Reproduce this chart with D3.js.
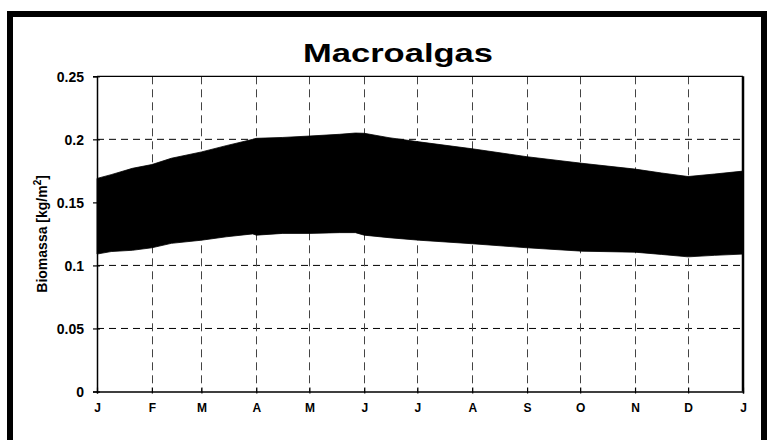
<!DOCTYPE html>
<html>
<head>
<meta charset="utf-8">
<script src="https://cdn.jsdelivr.net/npm/d3@7"></script>
<style>
  html, body { margin: 0; padding: 0; background: #fff; }
  svg { display: block; }
  text { font-family: "Liberation Sans", Arial, sans-serif; font-weight: bold; fill: #000; }
</style>
</head>
<body>
<svg id="chart" width="773" height="440"></svg>
<script>
// ---- data ----
const title = "Macroalgas";
const yLabel = "Biomassa [kg/m";
const monthLabels = ["J","F","M","A","M","J","J","A","S","O","N","D","J"];
const yTicks = [0, 0.05, 0.1, 0.15, 0.2, 0.25];
// day of year at which the envelope of the oscillating biomass was read
const days  = [0, 8, 20, 31, 42, 59, 73, 88, 90, 105, 120, 137, 146, 151, 165, 182, 212, 243, 274, 304, 319, 334, 349, 365];
// upper envelope (maxima of the oscillation), kg/m2
const upper = [0.169, 0.172, 0.177, 0.180, 0.185, 0.190, 0.195, 0.200, 0.2008, 0.2015, 0.2026, 0.204, 0.205, 0.2048, 0.2013, 0.198, 0.1925, 0.1862, 0.181, 0.1764, 0.1733, 0.1705, 0.1725, 0.1748];
// lower envelope (minima of the oscillation), kg/m2
const lower = [0.109, 0.111, 0.112, 0.114, 0.1175, 0.120, 0.1227, 0.125, 0.124, 0.1254, 0.1254, 0.126, 0.126, 0.124, 0.122, 0.120, 0.1172, 0.114, 0.1113, 0.1105, 0.1087, 0.1068, 0.108, 0.109];

// ---- drawing ----
const svg = d3.select("#chart");
const W = 773, H = 440;
const m = { left: 97, right: 743, top: 76.3, bottom: 391.5 };

svg.append("rect").attr("width", W).attr("height", H).attr("fill", "#fff");
// outer thick frame
svg.append("rect")
  .attr("x", 10).attr("y", 14).attr("width", 754).attr("height", 520)
  .attr("fill", "none").attr("stroke", "#000").attr("stroke-width", 6);

const start = new Date(Date.UTC(2001, 0, 1));
const end = new Date(Date.UTC(2002, 0, 1));
const x = d3.scaleUtc().domain([start, end]).range([m.left, m.right]);
const y = d3.scaleLinear().domain([0, 0.25]).range([m.bottom, m.top]);

const data = days.map((d, i) => ({ date: d3.utcDay.offset(start, d), hi: upper[i], lo: lower[i] }));
const monthTicks = d3.utcMonth.range(start, d3.utcDay.offset(end, 1));

// gridlines
const grid = svg.append("g");
grid.selectAll("line.h").data(yTicks.filter(v => v > 0 && v < 0.25)).join("line")
  .attr("x1", m.left).attr("x2", m.right)
  .attr("y1", d => y(d)).attr("y2", d => y(d))
  .attr("stroke", "#000").attr("stroke-width", 1).attr("stroke-dasharray", "7,5");
grid.selectAll("line.v").data(monthTicks.slice(1, -1)).join("line")
  .attr("x1", d => Math.round(x(d)) + 0.5).attr("x2", d => Math.round(x(d)) + 0.5)
  .attr("y1", m.top).attr("y2", m.bottom)
  .attr("stroke", "#444").attr("stroke-width", 1).attr("stroke-dasharray", "8,5");

// oscillation band
const area = d3.area()
  .x(d => x(d.date))
  .y0(d => y(d.lo))
  .y1(d => y(d.hi));
svg.append("path").datum(data)
  .attr("d", area)
  .attr("fill", "#000").attr("stroke", "#000").attr("stroke-width", 0.8);

// plot frame
svg.append("line").attr("x1", m.left).attr("x2", m.right).attr("y1", m.top).attr("y2", m.top)
  .attr("stroke", "#000").attr("stroke-width", 1.2);
svg.append("line").attr("x1", m.right).attr("x2", m.right).attr("y1", m.top).attr("y2", m.bottom)
  .attr("stroke", "#000").attr("stroke-width", 2.5);

// y axis
const yAxis = svg.append("g").attr("transform", `translate(${m.left},0)`)
  .call(d3.axisLeft(y).tickValues(yTicks).tickFormat(d => String(+d.toFixed(2))).tickSize(4).tickPadding(9));
yAxis.select(".domain").attr("stroke-width", 1.5);
yAxis.selectAll(".tick line").attr("x2", 3).attr("x1", -4).attr("stroke-width", 1.2);
yAxis.selectAll(".tick text").attr("font-size", 14).attr("font-family", null).attr("dy", "0.36em");

// x axis
const xAxis = svg.append("g").attr("transform", `translate(0,${m.bottom})`)
  .call(d3.axisBottom(x).tickValues(monthTicks).tickFormat((d, i) => monthLabels[i]).tickSize(2).tickPadding(10));
xAxis.select(".domain").attr("stroke-width", 1.5);
xAxis.selectAll(".tick line").attr("y1", -4).attr("y2", 2).attr("stroke-width", 1.2);
xAxis.selectAll(".tick text").attr("font-size", 12).attr("font-family", null);

// title
svg.append("text").attr("x", 398).attr("y", 62).attr("text-anchor", "middle")
  .attr("font-size", 26).attr("textLength", 190).attr("lengthAdjust", "spacingAndGlyphs")
  .text(title);

// y label
const yl = svg.append("text").attr("transform", `translate(47,${(m.top + m.bottom) / 2}) rotate(-90)`)
  .attr("text-anchor", "middle").attr("font-size", 14);
yl.append("tspan").text(yLabel);
yl.append("tspan").attr("font-size", 10).attr("dy", -6).text("2");
yl.append("tspan").attr("dy", 6).text("]");
</script>
</body>
</html>
